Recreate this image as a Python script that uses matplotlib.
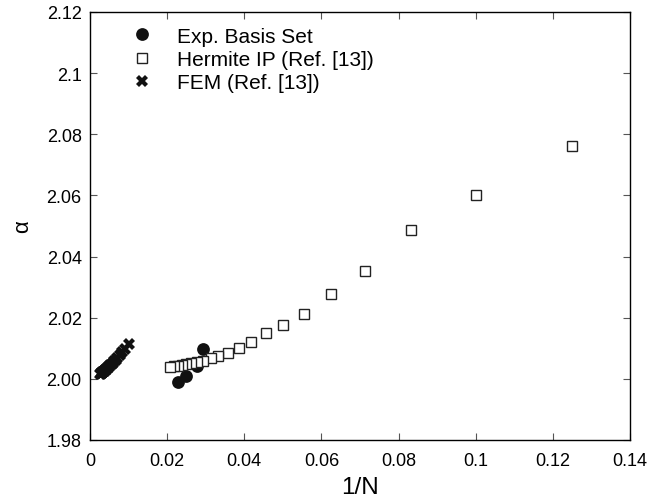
import matplotlib
matplotlib.use('Agg')
import matplotlib.pyplot as plt


# Hermite IP (Ref. [13])
herm_x = [0.125, 0.1, 0.0833, 0.0714, 0.0625, 0.0556, 0.05, 0.0455, 0.0417,
          0.0385, 0.0357, 0.0333, 0.0313, 0.0294, 0.0278, 0.0263, 0.025,
          0.0238, 0.0227, 0.0217, 0.0208]
herm_y = [2.0761, 2.0600, 2.0486, 2.0353, 2.0277, 2.0212, 2.0176, 2.0150, 2.0122,
          2.0101, 2.0085, 2.0075, 2.0067, 2.0059, 2.0054, 2.0051, 2.0048,
          2.0045, 2.0043, 2.0041, 2.0040]

# Exp. Basis Set
exp_x = [0.0227, 0.0250, 0.0278, 0.0294]
exp_y = [1.9991, 2.0009, 2.0042, 2.0098]

# FEM (Ref. [13])
fem_x = [0.0100, 0.0091, 0.0083, 0.0077, 0.0071, 0.0067, 0.0063, 0.0059, 0.0056,
         0.0053, 0.0050, 0.0048, 0.0045, 0.0043, 0.0042, 0.0040, 0.0038, 0.0037,
         0.0036, 0.0034, 0.0033, 0.0032, 0.0031, 0.0030, 0.0029, 0.0028, 0.0027]
fem_y = [2.0115, 2.0098, 2.0087, 2.0078, 2.0069, 2.0063, 2.0057, 2.0052, 2.0048,
         2.0044, 2.0041, 2.0038, 2.0035, 2.0032, 2.0031, 2.0029, 2.0027, 2.0026,
         2.0025, 2.0023, 2.0022, 2.0021, 2.0020, 2.0019, 2.0018, 2.0017, 2.0016]

x_ticks = [0, 0.02, 0.04, 0.06, 0.08, 0.1, 0.12, 0.14]
x_tick_labels = ['0', '0.02', '0.04', '0.06', '0.08', '0.1', '0.12', '0.14']
y_ticks = [1.98, 2.00, 2.02, 2.04, 2.06, 2.08, 2.1, 2.12]
y_tick_labels = ['1.98', '2.00', '2.02', '2.04', '2.06', '2.08', '2.1', '2.12']


def main():
    plt.rcParams['font.family'] = ['Liberation Sans', 'DejaVu Sans']

    fig = plt.figure(figsize=(6.7, 5.02), dpi=100)
    ax = fig.add_axes([90 / 670, 1 - 441 / 502, 540 / 670, 428 / 502])

    ax.plot(exp_x, exp_y, 'o', color='#111111', markersize=9.2,
            markeredgewidth=0, label='Exp. Basis Set', zorder=3)
    ax.plot(herm_x, herm_y, 's', markerfacecolor='white', markeredgecolor='#222222',
            markersize=7.6, markeredgewidth=1.0, label='Hermite IP (Ref. [13])', zorder=4)
    ax.plot(fem_x, fem_y, 'X', color='#111111', markersize=8,
            markeredgewidth=0, label='FEM (Ref. [13])', zorder=3)

    ax.set_xlim(0, 0.14)
    ax.set_ylim(1.98, 2.12)
    ax.set_xticks(x_ticks)
    ax.set_xticklabels(x_tick_labels)
    ax.set_yticks(y_ticks)
    ax.set_yticklabels(y_tick_labels)
    ax.tick_params(direction='in', length=5, width=0.8, labelsize=13,
                   top=True, right=True, color='#555555')
    ax.tick_params(axis='x', pad=9)
    ax.tick_params(axis='y', pad=6)
    for s in ax.spines.values():
        s.set_linewidth(1.0)

    ax.set_xlabel('1/N', fontsize=17.5, labelpad=5)
    ax.set_ylabel('\u03b1', fontsize=16, labelpad=10)

    ax.legend(loc='upper left', frameon=False, fontsize=15, handletextpad=0.7,
              labelspacing=0.2, borderaxespad=0, bbox_to_anchor=(0.042, 0.985))

    fig.savefig('out.png', dpi=100)


if __name__ == '__main__':
    main()
